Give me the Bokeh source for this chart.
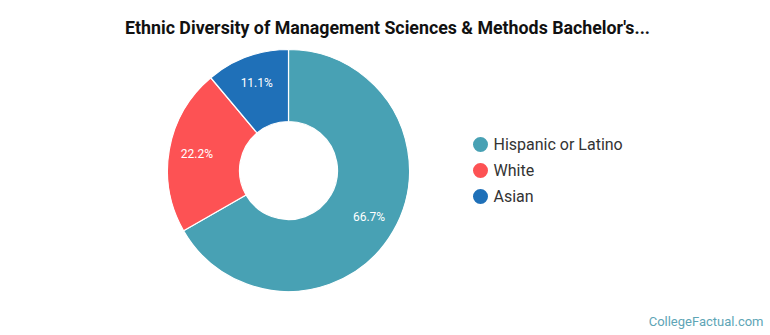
import math
from bokeh.plotting import figure
from bokeh.models import Range1d, ColumnDataSource
from bokeh.core.properties import value
from bokeh.embed import file_html
from bokeh.resources import INLINE

# ---- data ----
categories = ["Hispanic or Latino", "White", "Asian"]
shares = [66.7, 22.2, 11.1]
colors = ["#48a1b4", "#fd5254", "#1f70b8"]
title_text = "Ethnic Diversity of Management Sciences & Methods Bachelor's..."
credit_text = "CollegeFactual.com"

W, H = 770, 335
p = figure(width=W, height=H, output_backend="svg", toolbar_location=None,
           x_range=Range1d(0, W), y_range=Range1d(0, H),
           min_border=0, min_border_left=0, min_border_right=0,
           min_border_top=0, min_border_bottom=0)
p.axis.visible = False
p.grid.visible = False
p.outline_line_color = None
p.background_fill_color = "white"
p.border_fill_color = "white"

# donut layout
cx, cy = 288, H - 170
r_out, r_in = 121, 49
r_lab = 93

total = sum(shares)
starts, ends, lx, ly, labels = [], [], [], [], []
cum = 0.0
for s in shares:
    a0 = math.pi / 2 - 2 * math.pi * cum / total
    cum += s
    a1 = math.pi / 2 - 2 * math.pi * cum / total
    starts.append(a0)
    ends.append(a1)
    mid = (a0 + a1) / 2
    lx.append(cx + r_lab * math.cos(mid))
    ly.append(cy + r_lab * math.sin(mid))
    labels.append(f"{s:.1f}%")

src = ColumnDataSource(dict(start=starts, end=ends, color=colors,
                            lx=lx, ly=ly, lab=labels))
p.annular_wedge(x=cx, y=cy, inner_radius=r_in, outer_radius=r_out,
                start_angle="start", end_angle="end", direction="clock",
                fill_color="color", line_color="white", line_width=1.2,
                source=src)
p.text(x="lx", y="ly", text="lab", source=src, text_color="white",
       text_font=value("Roboto"), text_font_size="12px",
       text_align="center", text_baseline="middle")

# title
p.text(x=[387], y=[H - 27], text=[title_text], text_font=value("Roboto"),
       text_font_style="bold", text_font_size="17.8px", text_color="#111111",
       text_align="center", text_baseline="middle")

# legend
leg_y = [H - (144 + 26 * i) for i in range(len(categories))]
leg_src = ColumnDataSource(dict(x=[480] * len(categories), y=leg_y,
                                tx=[493] * len(categories),
                                name=categories, color=colors))
p.scatter(x="x", y="y", size=15, fill_color="color", line_color=None,
          source=leg_src)
p.text(x="tx", y="y", text="name", source=leg_src, text_color="#333333",
       text_font=value("Roboto"), text_font_size="16px",
       text_align="left", text_baseline="middle")

# credit
p.text(x=[763], y=[H - 321], text=[credit_text], text_font=value("Roboto"),
       text_font_size="13px", text_color="#5ea5b6",
       text_align="right", text_baseline="middle")

open("out.html", "w").write(file_html(p, INLINE))
